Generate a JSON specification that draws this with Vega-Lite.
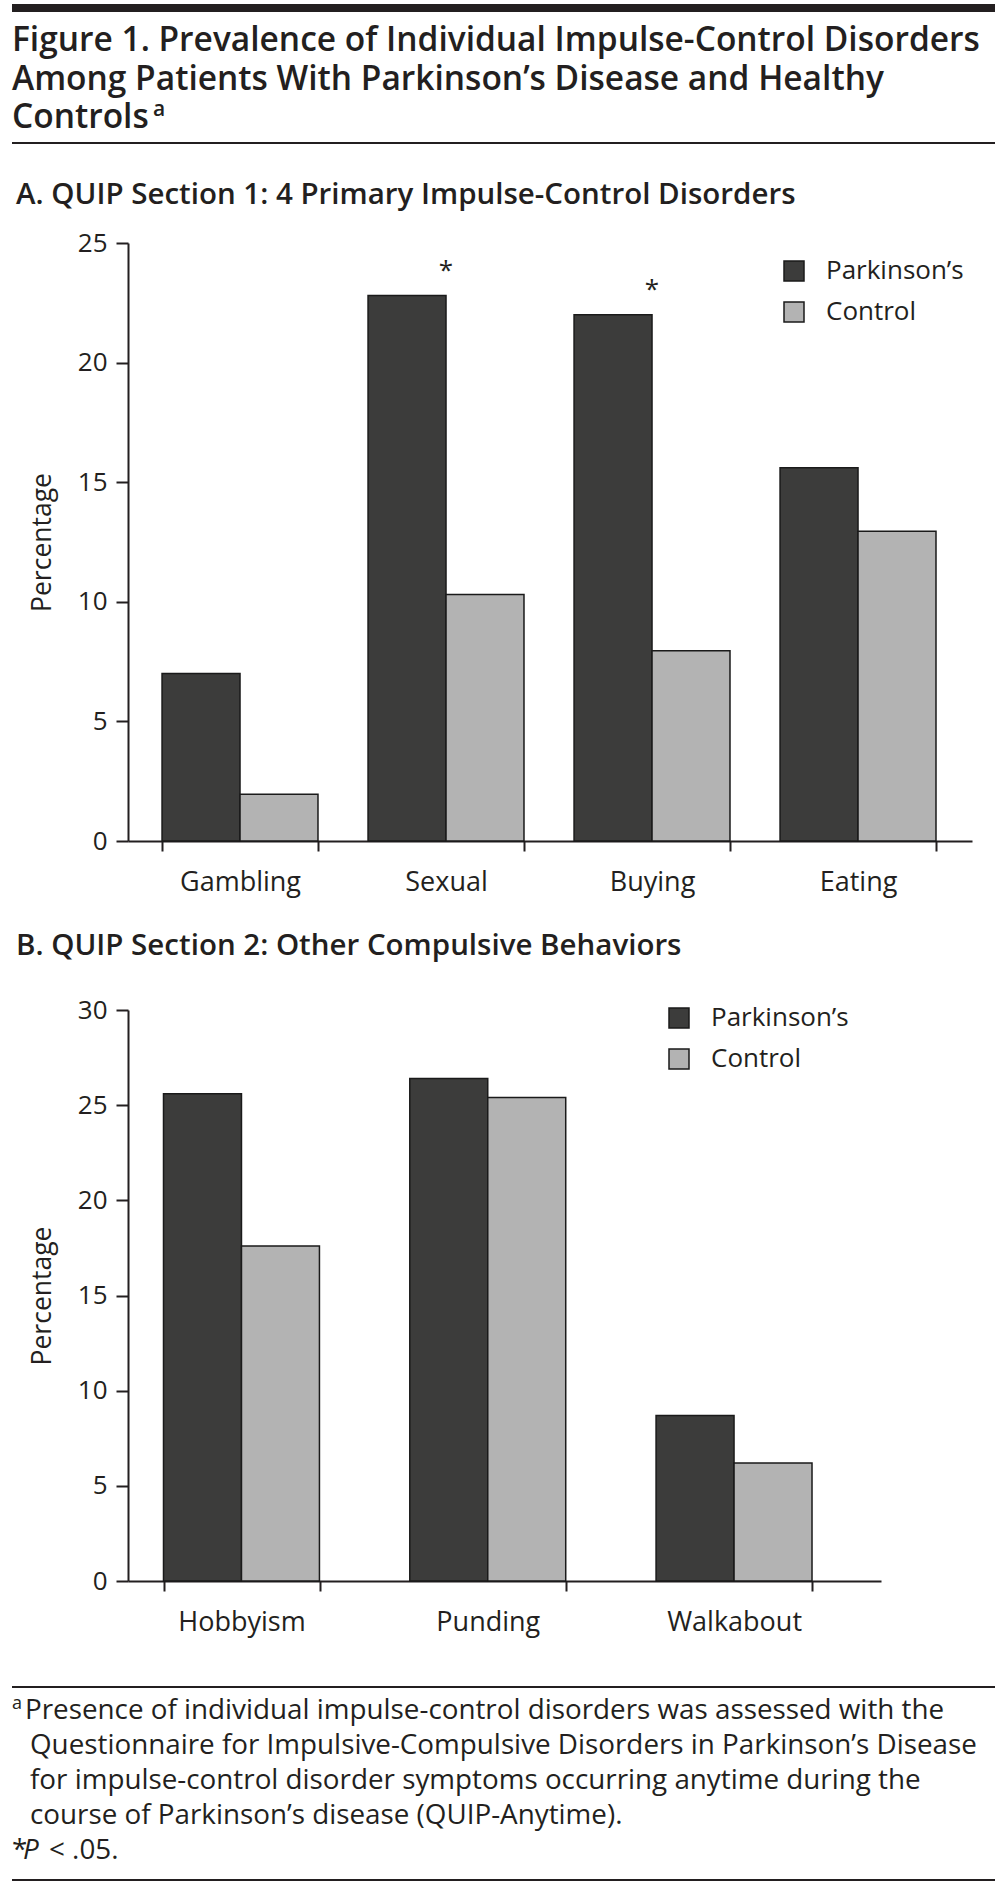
{
  "$schema": "https://vega.github.io/schema/vega-lite/v6.json",
  "background": "white",
  "padding": {"left": 8, "right": 0, "top": 0, "bottom": 0},
  "spacing": 35,
  "resolve": {"scale": {"fill": "independent"}, "legend": {"fill": "independent"}},
  "config": {
    "view": {"stroke": null},
    "font": "Open Sans",
    "axis": {
      "labelFont": "Open Sans", "titleFont": "Open Sans",
      "labelColor": "#231f20", "titleColor": "#231f20",
      "domainColor": "#231f20", "tickColor": "#231f20",
      "domainWidth": 2, "tickWidth": 2,
      "labelFontSize": 26, "titleFontSize": 26.5, "titleFontWeight": "normal",
      "grid": false
    },
    "legend": {
      "labelFont": "Open Sans", "labelFontSize": 26, "labelColor": "#231f20",
      "symbolType": "square", "symbolSize": 400,
      "symbolStrokeColor": "#1a1a1a", "symbolStrokeWidth": 1.5,
      "labelOffset": 19, "rowPadding": 15, "padding": 0
    },
    "title": {
      "font": "Open Sans", "fontWeight": 600, "fontSize": 29.5, "color": "#231f20",
      "anchor": "start", "frame": "group", "baseline": "alphabetic"
    },
    "text": {"color": "#231f20", "font": "Open Sans"}
  },
  "datasets": {
    "header": [
      {"line": 1, "part": "main", "text": "Figure 1. Prevalence of Individual Impulse-Control Disorders"},
      {"line": 2, "part": "main", "text": "Among Patients With Parkinson’s Disease and Healthy"},
      {"line": 3, "part": "main", "text": "Controls"},
      {"line": 3, "part": "sup", "text": "a"}
    ],
    "sec1": [
      {"behavior": "Gambling", "group": "Parkinson’s", "percent": 7.0, "sig": ""},
      {"behavior": "Gambling", "group": "Control", "percent": 1.95, "sig": ""},
      {"behavior": "Sexual", "group": "Parkinson’s", "percent": 22.8, "sig": "*"},
      {"behavior": "Sexual", "group": "Control", "percent": 10.3, "sig": ""},
      {"behavior": "Buying", "group": "Parkinson’s", "percent": 22.0, "sig": "*"},
      {"behavior": "Buying", "group": "Control", "percent": 7.95, "sig": ""},
      {"behavior": "Eating", "group": "Parkinson’s", "percent": 15.6, "sig": ""},
      {"behavior": "Eating", "group": "Control", "percent": 12.95, "sig": ""}
    ],
    "sec2": [
      {"behavior": "Hobbyism", "group": "Parkinson’s", "percent": 25.6},
      {"behavior": "Hobbyism", "group": "Control", "percent": 17.6},
      {"behavior": "Punding", "group": "Parkinson’s", "percent": 26.4},
      {"behavior": "Punding", "group": "Control", "percent": 25.4},
      {"behavior": "Walkabout", "group": "Parkinson’s", "percent": 8.7},
      {"behavior": "Walkabout", "group": "Control", "percent": 6.2}
    ],
    "notes": [
      {"line": 1, "part": "sup", "text": "a"},
      {"line": 1, "part": "first", "text": "Presence of individual impulse-control disorders was assessed with the"},
      {"line": 2, "part": "indent", "text": "Questionnaire for Impulsive-Compulsive Disorders in Parkinson’s Disease"},
      {"line": 3, "part": "indent", "text": "for impulse-control disorder symptoms occurring anytime during the"},
      {"line": 4, "part": "indent", "text": "course of Parkinson’s disease (QUIP-Anytime)."},
      {"line": 5, "part": "star", "text": "*"},
      {"line": 5, "part": "italic", "text": "P"},
      {"line": 5, "part": "rest", "text": "< .05."}
    ]
  },
  "vconcat": [
    {
      "width": 983, "height": 140,
      "layer": [
        {
          "data": {"values": [{"k": "top"}]},
          "mark": {"type": "rule", "strokeWidth": 8, "color": "#231f20"},
          "encoding": {"x": {"value": 0}, "x2": {"value": 983}, "y": {"value": 8}}
        },
        {
          "data": {"name": "header"},
          "transform": [{"filter": "datum.part == 'main'"}],
          "mark": {"type": "text", "align": "left", "baseline": "alphabetic", "fontSize": 33.5, "fontWeight": 600},
          "encoding": {
            "x": {"value": 0},
            "y": {"field": "line", "type": "ordinal", "scale": {"type": "point", "domain": [1, 2, 3], "range": [51, 128], "padding": 0}, "axis": null},
            "text": {"field": "text"}
          }
        },
        {
          "data": {"name": "header"},
          "transform": [{"filter": "datum.part == 'sup'"}],
          "mark": {"type": "text", "align": "left", "baseline": "alphabetic", "fontSize": 21, "fontWeight": 600, "dx": 141, "dy": -12},
          "encoding": {
            "x": {"value": 0},
            "y": {"field": "line", "type": "ordinal"},
            "text": {"field": "text"}
          }
        },
        {
          "data": {"values": [{"k": "bottom"}]},
          "mark": {"type": "rule", "strokeWidth": 2, "color": "#231f20"},
          "encoding": {"x": {"value": 0}, "x2": {"value": 983}, "y": {"value": 143}}
        }
      ]
    },
    {
      "width": 983, "height": 598,
      "title": {"text": "A. QUIP Section 1: 4 Primary Impulse-Control Disorders", "dx": 4, "offset": 20},
      "data": {"name": "sec1"},
      "layer": [
        {
          "mark": {"type": "bar", "stroke": "#1a1a1a", "strokeWidth": 1.5},
          "encoding": {
            "x": {
              "field": "behavior", "type": "nominal", "sort": ["Gambling", "Sexual", "Buying", "Eating"],
              "scale": {"range": [116, 960], "paddingInner": 0.243, "paddingOuter": 0.17, "align": 0.486},
              "axis": {"title": null, "labelAngle": 0, "tickBand": "extent", "tickSize": 10, "labelBaseline": "alphabetic", "labelPadding": 39, "labelFontSize": 27}
            },
            "xOffset": {"field": "group", "type": "nominal", "sort": ["Parkinson’s", "Control"]},
            "y": {
              "field": "percent", "type": "quantitative",
              "scale": {"domain": [0, 25], "nice": false},
              "axis": {"title": "Percentage", "values": [0, 5, 10, 15, 20, 25], "offset": -116, "tickSize": 12, "labelPadding": 9, "titlePadding": 21}
            },
            "fill": {
              "field": "group", "type": "nominal", "sort": ["Parkinson’s", "Control"],
              "scale": {"domain": ["Parkinson’s", "Control"], "range": ["#3c3c3b", "#b3b3b3"]},
              "legend": {"title": null, "orient": "none", "legendX": 769, "legendY": 15}
            }
          }
        },
        {
          "transform": [{"filter": "datum.sig != ''"}],
          "mark": {"type": "text", "baseline": "alphabetic", "dy": -17, "fontSize": 26},
          "encoding": {
            "x": {"field": "behavior", "type": "nominal", "sort": ["Gambling", "Sexual", "Buying", "Eating"]},
            "y": {"field": "percent", "type": "quantitative"},
            "text": {"field": "sig"}
          }
        }
      ]
    },
    {
      "width": 983, "height": 571,
      "title": {"text": "B. QUIP Section 2: Other Compulsive Behaviors", "dx": 4, "offset": 36},
      "data": {"name": "sec2"},
      "mark": {"type": "bar", "stroke": "#1a1a1a", "strokeWidth": 1.5},
      "encoding": {
        "x": {
          "field": "behavior", "type": "nominal", "sort": ["Hobbyism", "Punding", "Walkabout"],
          "scale": {"range": [116, 869], "paddingInner": 0.3665, "paddingOuter": 0.212, "align": 0.34},
          "axis": {"title": null, "labelAngle": 0, "tickBand": "extent", "tickSize": 10, "labelBaseline": "alphabetic", "labelPadding": 39, "labelFontSize": 27}
        },
        "xOffset": {"field": "group", "type": "nominal", "sort": ["Parkinson’s", "Control"]},
        "y": {
          "field": "percent", "type": "quantitative",
          "scale": {"domain": [0, 30], "nice": false},
          "axis": {"title": "Percentage", "values": [0, 5, 10, 15, 20, 25, 30], "offset": -116, "tickSize": 12, "labelPadding": 9, "titlePadding": 21}
        },
        "fill": {
          "field": "group", "type": "nominal", "sort": ["Parkinson’s", "Control"],
          "scale": {"domain": ["Parkinson’s", "Control"], "range": ["#3c3c3b", "#b3b3b3"]},
          "legend": {"title": null, "orient": "none", "legendX": 654, "legendY": -5}
        }
      }
    },
    {
      "width": 983, "height": 212,
      "data": {"name": "notes"},
      "layer": [
        {
          "data": {"values": [{"k": "top"}]},
          "mark": {"type": "rule", "strokeWidth": 2, "color": "#231f20"},
          "encoding": {"x": {"value": 0}, "x2": {"value": 983}, "y": {"value": 17}}
        },
        {
          "transform": [{"filter": "datum.part == 'first'"}],
          "mark": {"type": "text", "align": "left", "baseline": "alphabetic", "fontSize": 27.8, "dx": 13},
          "encoding": {
            "x": {"value": 0},
            "y": {"field": "line", "type": "ordinal", "scale": {"type": "point", "domain": [1, 2, 3, 4, 5], "range": [49, 189], "padding": 0}, "axis": null},
            "text": {"field": "text"}
          }
        },
        {
          "transform": [{"filter": "datum.part == 'sup'"}],
          "mark": {"type": "text", "align": "left", "baseline": "alphabetic", "fontSize": 18, "dy": -10},
          "encoding": {
            "x": {"value": 0},
            "y": {"field": "line", "type": "ordinal"},
            "text": {"field": "text"}
          }
        },
        {
          "transform": [{"filter": "datum.part == 'indent'"}],
          "mark": {"type": "text", "align": "left", "baseline": "alphabetic", "fontSize": 27.8, "dx": 18},
          "encoding": {
            "x": {"value": 0},
            "y": {"field": "line", "type": "ordinal"},
            "text": {"field": "text"}
          }
        },
        {
          "transform": [{"filter": "datum.part == 'star'"}],
          "mark": {"type": "text", "align": "left", "baseline": "alphabetic", "fontSize": 27.8},
          "encoding": {
            "x": {"value": 0},
            "y": {"field": "line", "type": "ordinal"},
            "text": {"field": "text"}
          }
        },
        {
          "transform": [{"filter": "datum.part == 'italic'"}],
          "mark": {"type": "text", "align": "left", "baseline": "alphabetic", "fontSize": 27.8, "fontStyle": "italic", "dx": 11},
          "encoding": {
            "x": {"value": 0},
            "y": {"field": "line", "type": "ordinal"},
            "text": {"field": "text"}
          }
        },
        {
          "transform": [{"filter": "datum.part == 'rest'"}],
          "mark": {"type": "text", "align": "left", "baseline": "alphabetic", "fontSize": 27.8, "dx": 37},
          "encoding": {
            "x": {"value": 0},
            "y": {"field": "line", "type": "ordinal"},
            "text": {"field": "text"}
          }
        },
        {
          "data": {"values": [{"k": "bottom"}]},
          "mark": {"type": "rule", "strokeWidth": 2, "color": "#231f20"},
          "encoding": {"x": {"value": 0}, "x2": {"value": 983}, "y": {"value": 210}}
        }
      ]
    }
  ]
}
